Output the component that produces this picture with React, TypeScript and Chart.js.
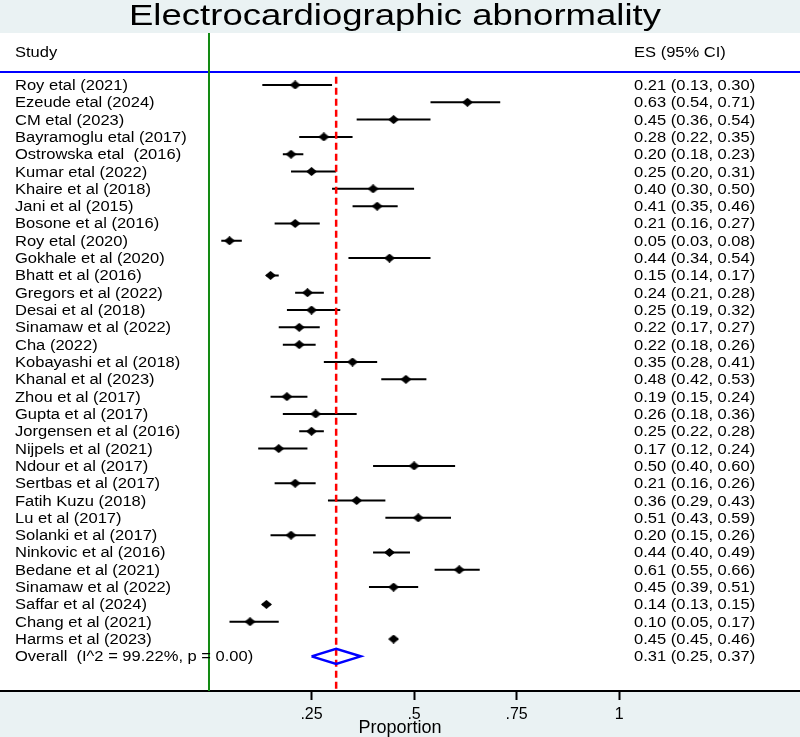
import React, { useEffect, useRef } from "react";
import { Chart, registerables } from "chart.js";

Chart.register(...registerables);

const chartTitle = "Electrocardiographic abnormality";
const headerStudy = "Study";
const headerES = "ES (95% CI)";
const xAxisTitle = "Proportion";
const xTicks = [0.25, 0.5, 0.75, 1];

const studies = [
  "Roy etal (2021)",
  "Ezeude etal (2024)",
  "CM etal (2023)",
  "Bayramoglu etal (2017)",
  "Ostrowska etal  (2016)",
  "Kumar etal (2022)",
  "Khaire et al (2018)",
  "Jani et al (2015)",
  "Bosone et al (2016)",
  "Roy etal (2020)",
  "Gokhale et al (2020)",
  "Bhatt et al (2016)",
  "Gregors et al (2022)",
  "Desai et al (2018)",
  "Sinamaw et al (2022)",
  "Cha (2022)",
  "Kobayashi et al (2018)",
  "Khanal et al (2023)",
  "Zhou et al (2017)",
  "Gupta et al (2017)",
  "Jorgensen et al (2016)",
  "Nijpels et al (2021)",
  "Ndour et al (2017)",
  "Sertbas et al (2017)",
  "Fatih Kuzu (2018)",
  "Lu et al (2017)",
  "Solanki et al (2017)",
  "Ninkovic et al (2016)",
  "Bedane et al (2021)",
  "Sinamaw et al (2022)",
  "Saffar et al (2024)",
  "Chang et al (2021)",
  "Harms et al (2023)",
];

const es = [
  0.21, 0.63, 0.45, 0.28, 0.2, 0.25, 0.4, 0.41, 0.21, 0.05, 0.44, 0.15, 0.24,
  0.25, 0.22, 0.22, 0.35, 0.48, 0.19, 0.26, 0.25, 0.17, 0.5, 0.21, 0.36, 0.51,
  0.2, 0.44, 0.61, 0.45, 0.14, 0.1, 0.45,
];

const lower = [
  0.13, 0.54, 0.36, 0.22, 0.18, 0.2, 0.3, 0.35, 0.16, 0.03, 0.34, 0.14, 0.21,
  0.19, 0.17, 0.18, 0.28, 0.42, 0.15, 0.18, 0.22, 0.12, 0.4, 0.16, 0.29, 0.43,
  0.15, 0.4, 0.55, 0.39, 0.13, 0.05, 0.45,
];

const upper = [
  0.3, 0.71, 0.54, 0.35, 0.23, 0.31, 0.5, 0.46, 0.27, 0.08, 0.54, 0.17, 0.28,
  0.32, 0.27, 0.26, 0.41, 0.53, 0.24, 0.36, 0.28, 0.24, 0.6, 0.26, 0.43, 0.59,
  0.26, 0.49, 0.66, 0.51, 0.15, 0.17, 0.46,
];

const overallLabel = "Overall  (I^2 = 99.22%, p = 0.00)";
const overallES = 0.31;
const overallLower = 0.25;
const overallUpper = 0.37;

const FONT = "'Liberation Sans', Arial, Helvetica, sans-serif";

function fmt(v: number) {
  return v.toFixed(2);
}

function makeDiamond(): HTMLCanvasElement {
  const c = document.createElement("canvas");
  c.width = 11;
  c.height = 9;
  const g = c.getContext("2d")!;
  g.fillStyle = "#000";
  g.beginPath();
  g.moveTo(5.5, 0);
  g.lineTo(11, 4.5);
  g.lineTo(5.5, 9);
  g.lineTo(0, 4.5);
  g.closePath();
  g.fill();
  return c;
}

export default function App() {
  const ref = useRef<HTMLCanvasElement | null>(null);

  useEffect(() => {
    document.body.style.margin = "0";
    const canvas = ref.current!;
    const n = studies.length;

    const ciData: any[] = [];
    es.forEach((_, i) => {
      ciData.push({ x: lower[i], y: i });
      ciData.push({ x: upper[i], y: i });
      ciData.push({ x: null, y: null });
    });

    const dh = 0.44;
    const overallDiamond = [
      { x: overallLower, y: n },
      { x: overallES, y: n - dh },
      { x: overallUpper, y: n },
      { x: overallES, y: n + dh },
      { x: overallLower, y: n },
    ];

    const textPlugin = {
      id: "forestDecor",
      beforeDraw(chart: any) {
        const { ctx, chartArea, width, height } = chart;
        ctx.save();
        ctx.fillStyle = "#EAF2F3";
        ctx.fillRect(0, 0, width, height);
        ctx.fillStyle = "#FFFFFF";
        ctx.fillRect(0, chartArea.top, width, chartArea.bottom - chartArea.top);
        ctx.restore();
      },
      afterDraw(chart: any) {
        const { ctx } = chart;
        const ys = chart.scales.y;
        const sx = 1.18;
        const put = (t: string, x: number, y: number, size: number, scale: number, align: CanvasTextAlign = "left") => {
          ctx.save();
          ctx.translate(x, y);
          ctx.scale(scale, 1);
          ctx.font = `${size}px ${FONT}`;
          ctx.fillStyle = "#000";
          ctx.textAlign = align;
          ctx.textBaseline = "alphabetic";
          ctx.fillText(t, 0, 0);
          ctx.restore();
        };
        // title
        ctx.save();
        ctx.font = `30px ${FONT}`;
        const tw = ctx.measureText(chartTitle).width;
        ctx.restore();
        put(chartTitle, 395, 25, 30, 532 / tw, "center");
        // headers
        const hy = ys.getPixelForValue(-1.9) + 5;
        put(headerStudy, 15, hy, 14, sx);
        put(headerES, 634, hy, 14, sx);
        // rows
        studies.forEach((s, i) => {
          const y = ys.getPixelForValue(i) + 5;
          put(s, 15, y, 14, sx);
          put(`${fmt(es[i])} (${fmt(lower[i])}, ${fmt(upper[i])})`, 634, y, 14, sx);
        });
        const oy = ys.getPixelForValue(n) + 5;
        put(overallLabel, 15, oy, 14, sx);
        put(`${fmt(overallES)} (${fmt(overallLower)}, ${fmt(overallUpper)})`, 634, oy, 14, sx);
      },
    };

    const chart = new Chart(canvas, {
      type: "scatter",
      data: {
        datasets: [
          {
            data: es.map((v, i) => ({ x: v, y: i })),
            pointStyle: makeDiamond() as any,
            pointRadius: 5,
            showLine: false,
          },
          {
            data: overallDiamond,
            showLine: true,
            borderColor: "#0000FF",
            borderWidth: 2.5,
            pointRadius: 0,
            fill: false,
          },
          {
            data: [
              { x: overallES, y: -0.48 },
              { x: overallES, y: 36 },
            ],
            showLine: true,
            borderColor: "#FF0000",
            borderWidth: 2.5,
            borderDash: [7, 4],
            pointRadius: 0,
          },
          {
            data: ciData,
            showLine: true,
            borderColor: "#000000",
            borderWidth: 2,
            pointRadius: 0,
            spanGaps: false,
          },
          {
            data: [
              { x: 0, y: -3 },
              { x: 0, y: 36 },
            ],
            showLine: true,
            borderColor: "#138A13",
            borderWidth: 2,
            pointRadius: 0,
          },
          {
            data: [
              { x: -0.6, y: -0.75 },
              { x: 1.6, y: -0.75 },
            ],
            showLine: true,
            borderColor: "#0000FF",
            borderWidth: 2,
            pointRadius: 0,
          },
        ] as any,
      },
      options: {
        animation: false,
        responsive: false,
        devicePixelRatio: 1,
        events: [],
        layout: { autoPadding: false, padding: { top: 33, left: 0, right: 0, bottom: 0 } },
        plugins: {
          legend: { display: false },
          tooltip: { enabled: false },
        },
        scales: {
          x: {
            type: "linear",
            position: "bottom",
            min: -0.5095,
            max: 1.4408,
            afterBuildTicks: (scale: any) => {
              scale.ticks = xTicks.map((v) => ({ value: v }));
            },
            afterFit: (scale: any) => {
              scale.height = 46;
            },
            ticks: {
              autoSkip: false,
              maxRotation: 0,
              padding: 7,
              color: "#000",
              font: { family: FONT, size: 16, lineHeight: 1 },
              callback: (v: any) => String(v).replace(/^0(?=\.)/, ""),
            },
            grid: {
              display: true,
              drawOnChartArea: false,
              drawTicks: true,
              tickLength: 9,
              tickWidth: 2,
              tickColor: "#000",
            },
            border: { display: true, color: "#000", width: 2 },
            title: {
              display: true,
              text: xAxisTitle,
              color: "#000",
              font: { family: FONT, size: 18, lineHeight: 1 },
              padding: 0,
            },
          },
          y: {
            type: "linear",
            display: false,
            reverse: true,
            min: -3,
            max: 35,
          },
        },
      } as any,
      plugins: [textPlugin],
    });

    return () => chart.destroy();
  }, []);

  return <canvas ref={ref} width={800} height={737} style={{ display: "block", width: 800, height: 737 }} />;
}
